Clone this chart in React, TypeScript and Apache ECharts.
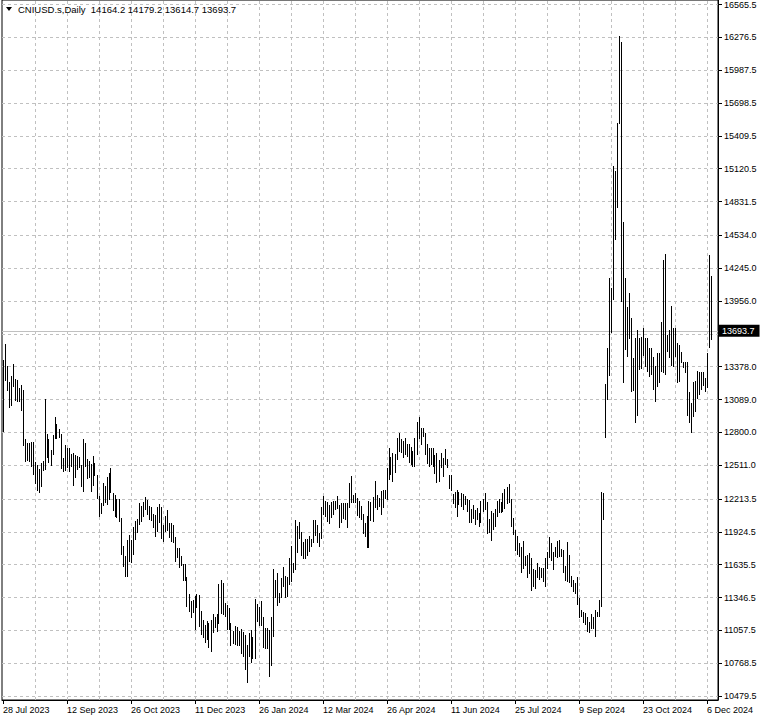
import React, { useEffect, useRef } from 'react';
import * as echarts from 'echarts';

// Daily high / low of each bar (price units)
const highs: number[] = [
  13437, 13578, 13384, 13243, 13296, 13401, 13270, 13261, 13190, 13217,
  13173, 12741, 12706, 12706, 12715, 12715, 12539, 12513, 12477, 12530,
  12548, 13093, 12785, 12741, 12645, 12776, 12935, 12873, 12829, 12785,
  12574, 12689, 12662, 12662, 12610, 12618, 12601, 12592, 12583, 12513,
  12741, 12706, 12565, 12548, 12521, 12592, 12530, 12425, 12240, 12178,
  12354, 12328, 12407, 12442, 12486, 12266, 12249, 12213, 12213, 12046,
  11800, 11712, 11853, 11897, 11853, 11967, 12020, 12038, 12178, 12152,
  12187, 12231, 12205, 12152, 12143, 12082, 12073, 12143, 12169, 12143,
  11985, 12064, 12117, 12002, 12002, 11985, 11879, 11782, 11782, 11712,
  11641, 11641, 11527, 11378, 11316, 11325, 11360, 11378, 11369, 11228,
  11149, 11105, 11140, 11122, 11149, 11202, 11175, 11202, 11465, 11501,
  11474, 11298, 11281, 11254, 11122, 11052, 11096, 11087, 11052, 11070,
  11043, 11017, 10929, 11034, 11061, 10999, 11334, 11290, 11263, 11316,
  11175, 11078, 11078, 11061, 11175, 11598, 11501, 11562, 11386, 11518,
  11615, 11536, 11527, 11694, 11800, 11650, 12029, 11976, 12011, 11923,
  11835, 11862, 11862, 11888, 11862, 12029, 12029, 11985, 11914, 12143,
  12240, 12196, 12187, 12161, 12187, 12196, 12196, 12240, 12161, 12178,
  12178, 12178, 12178, 12354, 12416, 12249, 12266, 12222, 12196, 12152,
  12082, 12002, 12064, 12196, 12187, 12231, 12372, 12249, 12222, 12284,
  12293, 12293, 12486, 12662, 12583, 12618, 12610, 12750, 12794, 12741,
  12724, 12750, 12697, 12697, 12671, 12636, 12750, 12891, 12935, 12838,
  12838, 12794, 12697, 12662, 12662, 12662, 12601, 12618, 12557, 12618,
  12574, 12654, 12565, 12425, 12425, 12258, 12275, 12293, 12275, 12266,
  12258, 12240, 12213, 12205, 12126, 12161, 12117, 12135, 12090, 12196,
  12213, 12266, 12187, 12038, 12108, 12090, 12126, 12196, 12213, 12187,
  12266, 12302, 12319, 12345, 12213, 12046, 11941, 11888, 11826, 11791,
  11844, 11712, 11721, 11738, 11694, 11598, 11589, 11650, 11615, 11606,
  11606, 11694, 11747, 11879, 11826, 11747, 11791, 11844, 11853, 11774,
  11765, 11624, 11835, 11721, 11536, 11501, 11474, 11527, 11342, 11237,
  11219, 11210, 11175, 11131, 11202, 11175, 11237, 11219, 11325, 12275,
  12266, 13226, 13542, 14158, 14070, 15144, 15100, 15522, 16288, 16235,
  14651, 14158, 13903, 14026, 13806, 13454, 13630, 13701, 13630, 13639,
  13718, 13630, 13630, 13542, 13542, 13463, 13384, 13498, 13498, 13771,
  14317, 14370, 13657, 13701, 13912, 13718, 13718, 13586, 13569, 13507,
  13419, 13419, 13419, 13155, 13058, 13243, 13252, 13340, 13331, 13331,
  13331, 13279, 13498, 14361, 14179.2,
];

const lows: number[] = [
  12803, 13252, 13164, 13014, 13032, 13199, 13076, 13067, 13067, 12988,
  12680, 12539, 12548, 12539, 12495, 12425, 12345, 12284, 12266, 12319,
  12460, 12469, 12574, 12530, 12504, 12601, 12741, 12741, 12750, 12477,
  12451, 12460, 12486, 12451, 12495, 12328, 12398, 12469, 12486, 12319,
  12275, 12495, 12389, 12398, 12275, 12328, 12416, 12213, 12055, 12082,
  12152, 12178, 12161, 12205, 12266, 12108, 12055, 12046, 12011, 11721,
  11615, 11527, 11527, 11659, 11650, 11721, 11853, 11914, 11985, 12011,
  12055, 12117, 12073, 12029, 12020, 11958, 11879, 11923, 12002, 11862,
  11835, 11923, 11932, 11870, 11835, 11826, 11659, 11694, 11606, 11624,
  11492, 11492, 11263, 11219, 11166, 11210, 11061, 11254, 11087, 11017,
  10990, 10946, 10973, 10902, 10867, 11034, 11078, 11043, 11114, 11202,
  11193, 11175, 11061, 11061, 10920, 10937, 10929, 10920, 10920, 10850,
  10823, 10709, 10594, 10823, 10770, 10806, 10806, 11131, 11096, 11096,
  10902, 10894, 10894, 10647, 10744, 10999, 11342, 11272, 11298, 11342,
  11439, 11342, 11351, 11457, 11483, 11562, 11589, 11738, 11862, 11712,
  11685, 11685, 11712, 11747, 11791, 11826, 11888, 11826, 11791, 11862,
  12073, 12055, 12011, 11994, 12046, 12073, 12117, 12126, 11958, 12002,
  12038, 12029, 11958, 12135, 12178, 12178, 12178, 12064, 12046, 12029,
  11906, 11879, 11782, 11782, 12020, 12011, 12135, 12117, 12143, 12073,
  12135, 12213, 12205, 12381, 12425, 12363, 12442, 12557, 12627, 12618,
  12574, 12601, 12583, 12530, 12513, 12495, 12495, 12601, 12741, 12689,
  12759, 12601, 12521, 12495, 12513, 12495, 12434, 12354, 12363, 12486,
  12407, 12513, 12486, 12302, 12284, 12170, 12135, 12055, 12161, 12143,
  12117, 12161, 12099, 12002, 12002, 12038, 11985, 12029, 11967, 12002,
  12099, 12117, 11906, 11914, 11844, 11941, 11967, 12055, 12090, 12090,
  12099, 12126, 12170, 12178, 11967, 11897, 11756, 11721, 11703, 11562,
  11598, 11624, 11518, 11554, 11404, 11439, 11422, 11518, 11501, 11518,
  11483, 11439, 11598, 11694, 11668, 11589, 11703, 11694, 11703, 11703,
  11562, 11492, 11483, 11474, 11439, 11395, 11378, 11281, 11166, 11175,
  11122, 11105, 11043, 11034, 11070, 11070, 10999, 11175, 11175, 11263,
  12029, 12750, 13085, 13296, 13674, 13965, 14493, 14774, 15514, 13947,
  13234, 13525, 13463, 13622, 13155, 13164, 12882, 12944, 13349, 13358,
  13472, 13375, 13331, 13287, 13305, 13173, 13067, 13199, 13234, 13331,
  13322, 13305, 13507, 13454, 13384, 13375, 13463, 13234, 13243, 13410,
  13366, 13322, 12944, 12882, 12794, 12935, 12979, 13093, 13129, 13173,
  13208, 13155, 13190, 13542, 13614.7,
];

// Price-axis tick labels (the 13667.0 label sits under the current-price tag)
const priceLabels: number[] = [
  16565.5, 16276.5, 15987.5, 15698.5, 15409.5, 15120.5, 14831.5, 14534.0,
  14245.0, 13956.0, 13378.0, 13089.0, 12800.0, 12511.0, 12213.5, 11924.5,
  11635.5, 11346.5, 11057.5, 10768.5, 10479.5,
];
const hiddenGridPrices: number[] = [13667.0];
const lastPrice = 13693.7;
const titleText = 'CNIUSD.s,Daily  14164.2 14179.2 13614.7 13693.7';

// Trading calendar
const startDate = '2023-07-28';
const holidays: string[] = ['2023-12-25', '2024-01-01', '2024-03-29'];
const MONTHS = ['Jan', 'Feb', 'Mar', 'Apr', 'May', 'Jun', 'Jul', 'Aug', 'Sep', 'Oct', 'Nov', 'Dec'];
const emptySlotsRight = 3;
const labelEvery = 32;
const gridEvery = 16;

const FONT = '"Liberation Sans", Arial, sans-serif';

function buildDates(n: number): string[] {
  const out: string[] = [];
  const d = new Date(startDate + 'T00:00:00Z');
  while (out.length < n) {
    const dow = d.getUTCDay();
    const iso = d.toISOString().slice(0, 10);
    if (dow !== 0 && dow !== 6 && !holidays.includes(iso)) {
      out.push(`${d.getUTCDate()} ${MONTHS[d.getUTCMonth()]} ${d.getUTCFullYear()}`);
    }
    d.setUTCDate(d.getUTCDate() + 1);
  }
  return out;
}

export default function App() {
  const ref = useRef<HTMLDivElement>(null);

  useEffect(() => {
    if (!ref.current) return;
    const chart = echarts.init(ref.current, null, { renderer: 'svg' });
    const n = highs.length;
    const categories = [...buildDates(n), ...Array(emptySlotsRight).fill('')];
    const showLabel = (idx: number) => idx % labelEvery === 0 && idx < n;

    const vGrid: any[] = [];
    for (let i = gridEvery; i < categories.length; i += gridEvery) vGrid.push({ xAxis: i });
    const hGrid = [...priceLabels, ...hiddenGridPrices].map((v) => ({ yAxis: v }));

    const option: any = {
      animation: false,
      backgroundColor: '#ffffff',
      grid: {
        left: 2,
        top: 0,
        width: 716,
        height: 700,
        show: true,
        borderColor: '#000',
        borderWidth: 1,
        backgroundColor: 'transparent',
      },
      xAxis: {
        type: 'category',
        data: categories,
        boundaryGap: true,
        axisLine: { show: true, lineStyle: { color: '#000', width: 1 } },
        axisTick: { show: true, interval: showLabel, alignWithLabel: true, length: 4, lineStyle: { color: '#000' } },
        axisLabel: {
          show: true,
          interval: showLabel,
          align: 'left',
          margin: 5,
          color: '#000',
          fontSize: 9,
          fontFamily: FONT,
        },
        splitLine: { show: false },
      },
      yAxis: {
        type: 'value',
        position: 'right',
        min: 10444.7,
        max: 16604.7,
        scale: true,
        axisLine: { show: true, lineStyle: { color: '#000', width: 1 } },
        axisTick: { show: true, customValues: priceLabels, length: 4, lineStyle: { color: '#000' } },
        axisLabel: {
          show: true,
          customValues: priceLabels,
          formatter: (v: number) => v.toFixed(1),
          margin: 6,
          color: '#000',
          fontSize: 9,
          fontFamily: FONT,
        },
        splitLine: { show: false },
      },
      graphic: [
        {
          type: 'polygon',
          z: 100,
          shape: { points: [[6, 7], [12, 7], [9, 11]] },
          style: { fill: '#000' },
        },
        {
          type: 'text',
          z: 100,
          left: 18,
          top: 4,
          style: { text: titleText, fill: '#000', fontSize: 9.5, fontFamily: FONT },
        },
      ],
      series: [
        {
          type: 'line',
          data: [],
          z: 1,
          silent: true,
          markLine: {
            silent: true,
            symbol: ['none', 'none'],
            animation: false,
            label: { show: false },
            lineStyle: { color: '#c0c0c0', type: [3, 3], width: 1 },
            data: [...hGrid, ...vGrid],
          },
        },
        {
          type: 'line',
          data: [],
          z: 2,
          silent: true,
          markLine: {
            silent: true,
            symbol: ['none', 'none'],
            animation: false,
            lineStyle: { color: '#c0c0c0', type: 'solid', width: 1 },
            label: {
              show: true,
              position: 'end',
              formatter: () => lastPrice.toFixed(1),
              backgroundColor: '#000',
              color: '#fff',
              fontSize: 9,
              fontFamily: FONT,
              padding: [2, 5, 1, 3],
              distance: 1,
            },
            data: [{ yAxis: lastPrice }],
          },
        },
        {
          type: 'custom',
          z: 5,
          silent: true,
          encode: { x: 0, y: [1, 2] },
          data: highs.map((h, i) => [i, lows[i], h]),
          renderItem: (params: any, api: any) => {
            const i = api.value(0);
            const top = api.coord([i, api.value(2)]);
            const bot = api.coord([i, api.value(1)]);
            const x = Math.floor(top[0]);
            const y1 = Math.round(top[1]);
            const y2 = Math.round(bot[1]);
            return {
              type: 'rect',
              shape: { x, y: y1, width: 1, height: Math.max(1, y2 - y1) },
              style: { fill: '#000' },
            };
          },
        },
      ],
    };

    chart.setOption(option);
    return () => chart.dispose();
  }, []);

  return (
    <div
      ref={ref}
      style={{ position: 'fixed', left: 0, top: 0, width: 763, height: 721, background: '#fff' }}
    />
  );
}
